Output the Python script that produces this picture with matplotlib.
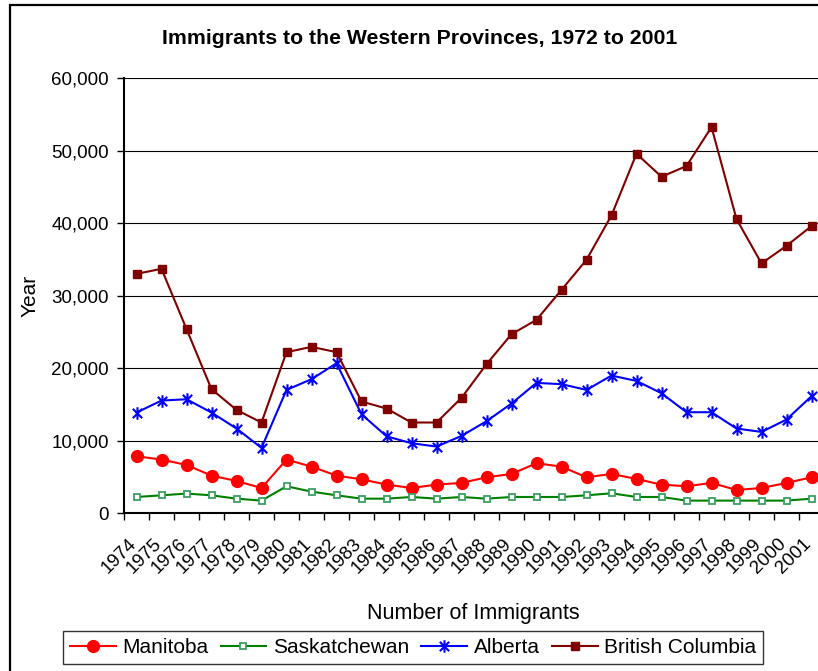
import matplotlib
matplotlib.use("Agg")
import matplotlib.pyplot as plt
import matplotlib.transforms as mtransforms
from matplotlib.path import Path
from matplotlib.patches import Rectangle

plt.rcParams["font.family"] = ["Liberation Sans", "DejaVu Sans"]

# Data
years = [str(y) for y in range(1974, 2002)]
manitoba = [7830, 7380, 6630, 5160, 4420, 3450, 7380, 6400, 5160, 4650,
            3920, 3450, 3920, 4150, 4930, 5390, 6870, 6400, 4930, 5390,
            4700, 3920, 3690, 4150, 3180, 3450, 4150, 4930]
saskatchewan = [2210, 2440, 2680, 2440, 1980, 1710, 3690, 2950, 2440, 1980,
                1980, 2210, 1980, 2210, 1980, 2210, 2210, 2210, 2440, 2720,
                2210, 2210, 1710, 1710, 1710, 1710, 1710, 1980]
alberta = [13870, 15520, 15700, 13870, 11660, 8980, 16990, 18470, 20670, 13630,
           10590, 9630, 9170, 10640, 12670, 15110, 17960, 17780, 16990, 18970,
           18230, 16530, 13910, 13910, 11660, 11190, 12900, 16120]
british_columbia = [33010, 33700, 25400, 17090, 14230, 12490, 22200, 22930, 22200, 15390,
                    14420, 12490, 12490, 15890, 20540, 24680, 26660, 30800, 34950, 41080,
                    49590, 46410, 47890, 53270, 40570, 34450, 36880, 39600]
y_ticks = [0, 10000, 20000, 30000, 40000, 50000, 60000]

# Excel style star marker: vertical bar plus an X
star = Path([(0, -1), (0, 1), (-0.75, -0.75), (0.75, 0.75), (-0.75, 0.75), (0.75, -0.75)],
            [Path.MOVETO, Path.LINETO, Path.MOVETO, Path.LINETO, Path.MOVETO, Path.LINETO])

W, H = 818, 671
fig = plt.figure(figsize=(W / 100, H / 100), dpi=100)

# outer chart border (cropped on the right and bottom)
fig.patches.append(Rectangle((10 / W, -0.05), 1.1, 1 - 5 / H + 0.05, transform=fig.transFigure,
                             fill=False, edgecolor="black", linewidth=1.6))

ax = fig.add_axes([124 / W, 1 - 513 / H, 700 / W, (513 - 78.3) / H])
x = list(range(len(years)))

ax.plot(x, manitoba, color="red", lw=1.5, marker="o", ms=8.5, mfc="red", mec="red",
        label="Manitoba", zorder=3)
ax.plot(x, saskatchewan, color="#008000", lw=1.5, marker="s", ms=4.5, mfc="white",
        mec="#3A9F62", mew=1.3, label="Saskatchewan", zorder=3)
ax.plot(x, alberta, color="blue", lw=1.5, marker=star, ms=9, mec="blue", mew=1.5,
        label="Alberta", zorder=3)
ax.plot(x, british_columbia, color="#800000", lw=1.5, marker="s", ms=5.5, mfc="#800000",
        mec="#800000", label="British Columbia", zorder=3)

ax.set_xlim(-0.5, len(years) - 0.5)
ax.set_ylim(0, 60000)
ax.set_yticks(y_ticks)
ax.set_yticklabels([f"{v:,}" for v in y_ticks], fontsize=13.5)

# category ticks sit between the years; year labels drawn slanted, slightly left of centre
ax.set_xticks([i - 0.5 for i in range(len(years) + 1)])
ax.set_xticklabels([])
ax.tick_params(axis="x", length=5, width=1, direction="out")
ax.tick_params(axis="y", length=5, width=1, direction="out", pad=6)
lbl_trans = mtransforms.blended_transform_factory(ax.transData, ax.transAxes) + \
    mtransforms.ScaledTranslation(-9 / 100, -22 / 100, fig.dpi_scale_trans)
for i, yr in zip(x, years):
    ax.text(i, 0, yr, transform=lbl_trans, rotation=45, ha="right", va="top",
            rotation_mode="anchor", fontsize=13.5, clip_on=False)

ax.yaxis.grid(True, color="black", lw=0.8)
ax.set_axisbelow(True)
for s in ["top", "right"]:
    ax.spines[s].set_visible(False)
for s in ["left", "bottom"]:
    ax.spines[s].set_linewidth(1.5)

ax.set_ylabel("Year", fontsize=15, labelpad=8)
ax.set_xlabel("Number of Immigrants", fontsize=15.5)
ax.xaxis.set_label_coords((473 - 124) / 700, -(603 - 513) / (513 - 78.3))

fig.text(420 / W, 1 - 38 / H, "Immigrants to the Western Provinces, 1972 to 2001",
         ha="center", va="center", fontsize=15.3, fontweight="bold")

leg = fig.legend(loc="center", bbox_to_anchor=(413 / W, 1 - 647.5 / H), ncol=4, fontsize=15,
                 frameon=True, fancybox=False, edgecolor="black", handlelength=2.2,
                 handletextpad=0.3, columnspacing=0.6, borderpad=0.35, borderaxespad=0)
leg.get_frame().set_linewidth(1)

fig.savefig("out.png", dpi=100)
